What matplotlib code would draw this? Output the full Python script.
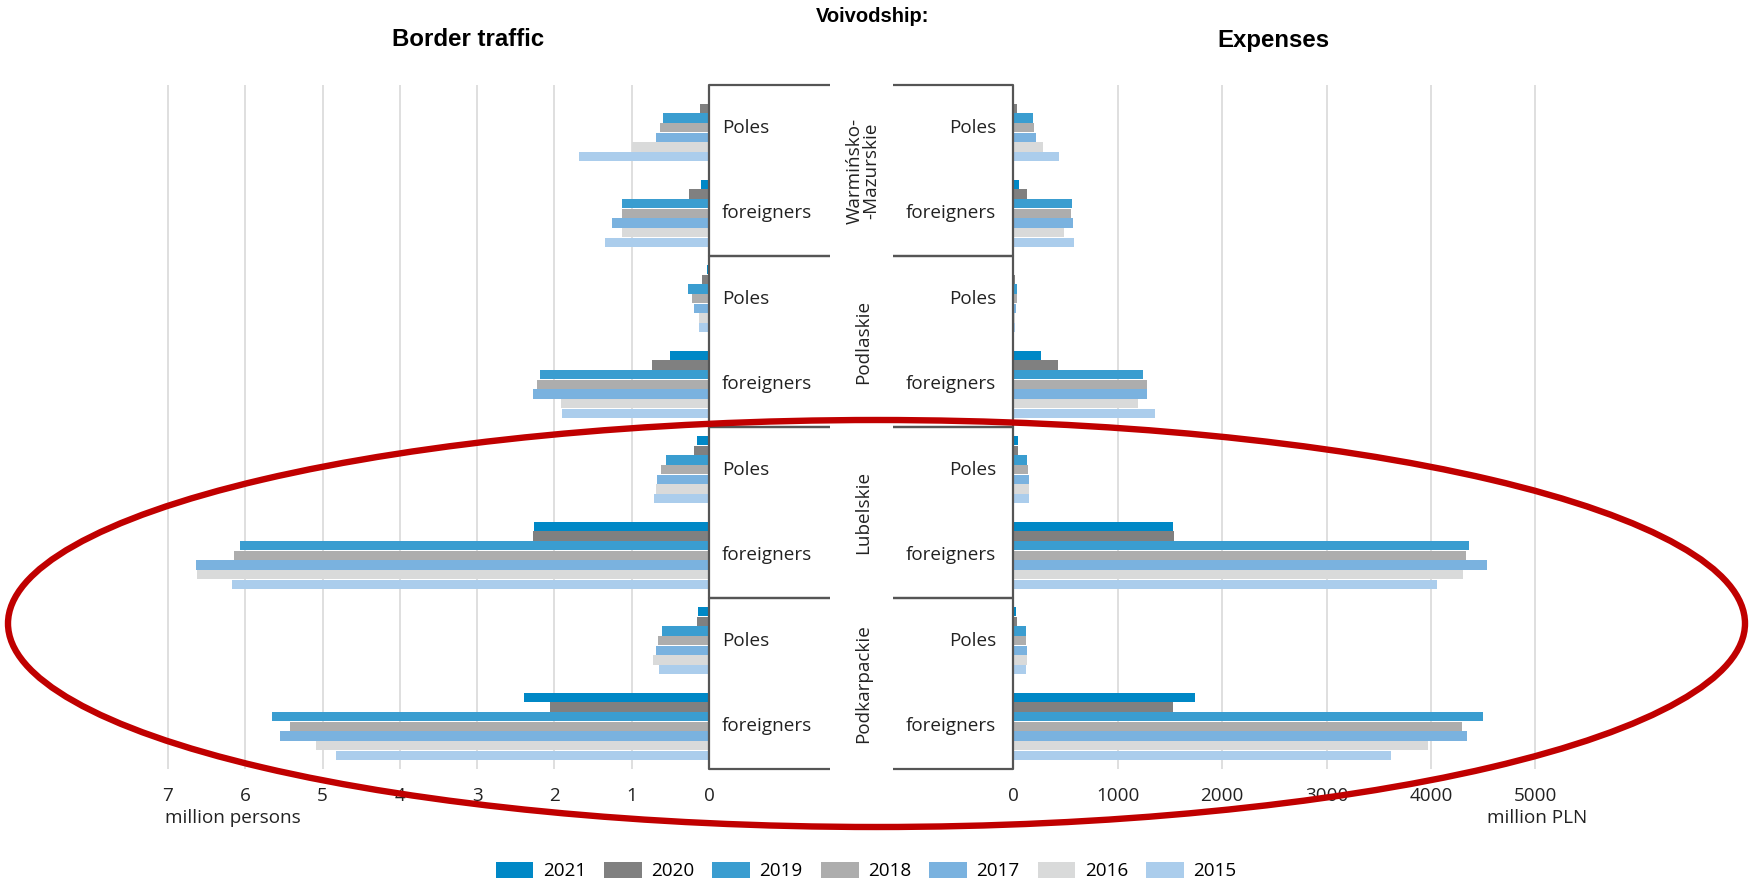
#
#  plot.py
#
#  border traffic and expenses of Poles and foreigners
#  for the voivodships on the eastern border, 2015-2021
#

import numpy as np
import matplotlib
matplotlib.use("Agg")
import matplotlib.pyplot as plt
from matplotlib.patches import Ellipse, Patch

plt.rcParams['font.family'] = ['Open Sans', 'DejaVu Sans']

#---------- data -------------------------------------------
voivodships = ['Warmińsko-\n-Mazurskie', 'Podlaskie', 'Lubelskie', 'Podkarpackie']
groups = ['Poles', 'foreigners']
years = [2021, 2020, 2019, 2018, 2017, 2016, 2015]
colors = ['#0088c6', '#808080', '#3a9dd0', '#adadad', '#7ab2df', '#d9dada', '#abcdec']

#  million persons, one row per year, columns in voivodship order
traffic_poles = [
    [0.01, 0.03, 0.15, 0.14],
    [0.11, 0.09, 0.19, 0.15],
    [0.59, 0.27, 0.55, 0.61],
    [0.63, 0.22, 0.62, 0.66],
    [0.69, 0.19, 0.67, 0.69],
    [1.00, 0.13, 0.69, 0.73],
    [1.68, 0.13, 0.71, 0.65],
]
traffic_foreigners = [
    [0.10, 0.51, 2.26, 2.39],
    [0.26, 0.74, 2.28, 2.06],
    [1.13, 2.18, 6.07, 5.65],
    [1.12, 2.23, 6.14, 5.42],
    [1.25, 2.28, 6.64, 5.55],
    [1.12, 1.92, 6.62, 5.09],
    [1.35, 1.90, 6.17, 4.82],
]

#  million PLN
expenses_poles = [
    [5, 5, 41, 26],
    [34, 12, 48, 34],
    [190, 40, 132, 122],
    [203, 31, 144, 122],
    [222, 27, 147, 129],
    [280, 18, 150, 129],
    [439, 21, 150, 118],
]
expenses_foreigners = [
    [50, 264, 1533, 1738],
    [127, 424, 1540, 1529],
    [564, 1245, 4363, 4498],
    [548, 1280, 4333, 4297],
    [568, 1277, 4538, 4341],
    [481, 1191, 4311, 3971],
    [580, 1360, 4058, 3619],
]

#---------- layout (pixels of the 1757 x 883 figure) -------
W, H = 1757, 883
ytop, ybot = 85, 769          # plot area
xl0, xl1 = 150, 709           # left bar axes
xr0, xr1 = 1013.3, 1560       # right bar axes
ncat = len(voivodships) * len(groups)
step = 0.1134                 # bar pitch in category units
fs = 13.6                     # body text size
tc = '#222222'

fig = plt.figure(figsize=(W / 100, H / 100), dpi=100)

def fig_rect(x0, x1):
    return [x0 / W, 1 - ybot / H, (x1 - x0) / W, (ybot - ytop) / H]

def draw_bars(axis, poles, foreigners):
    poles = np.array(poles)
    foreigners = np.array(foreigners)
    for j in range(len(years)):
        vals = np.empty(ncat)
        vals[0::2] = poles[j]
        vals[1::2] = foreigners[j]
        ypos = np.arange(ncat) + 0.5 + (j - 3) * step
        axis.barh(ypos, vals, height=step * 0.96, color=colors[j],
                  label=str(years[j]), zorder=2)
    axis.set_ylim(ncat, 0)
    axis.set_yticks([])
    for s in axis.spines.values():
        s.set_visible(False)
    axis.tick_params(axis='x', length=0, pad=13, labelsize=fs, colors=tc)
    axis.grid(axis='x', color='#d9d9d9', lw=1.2, zorder=0)

#  left: border traffic
axL = fig.add_axes(fig_rect(xl0, xl1))
draw_bars(axL, traffic_poles, traffic_foreigners)
axL.set_xlim((xl1 - xl0) / 77.3, 0)
axL.set_xticks(range(7, -1, -1))
axL.set_xticklabels([str(v) for v in range(7, -1, -1)])

#  right: expenses
axR = fig.add_axes(fig_rect(xr0, xr1))
draw_bars(axR, expenses_poles, expenses_foreigners)
axR.set_xlim(0, (xr1 - xr0) / 0.1044)
axR.set_xticks(range(0, 6000, 1000))

#---------- overlay in pixel coordinates -------------------
ov = fig.add_axes([0, 0, 1, 1], facecolor='none')
ov.set_xlim(0, W)
ov.set_ylim(H, 0)
ov.axis('off')

gh = (ybot - ytop) / len(voivodships)
box_kw = dict(color='#555555', lw=1.6, solid_capstyle='butt')
for i, name in enumerate(voivodships):
    y0 = ytop + i * gh
    y1 = y0 + gh
    # left box
    ov.plot([830, 709, 709, 830], [y0, y0, y1, y1], **box_kw)
    # right box
    ov.plot([893, 1013, 1013, 893], [y0, y0, y1, y1], **box_kw)
    ov.text(863, (y0 + y1) / 2, name, rotation=90, ha='center', va='center',
            fontsize=fs, color=tc, linespacing=0.95)
    for k, g in enumerate(groups):
        yc = y0 + (k + 0.5) * gh / 2
        ov.text(722, yc, g, ha='left', va='center', fontsize=fs, color=tc)
        ov.text(996, yc, g, ha='right', va='center', fontsize=fs, color=tc)

ov.text(468, 40, 'Border traffic', ha='center', va='center', fontsize=17.3,
        fontweight='bold', family='Liberation Sans')
ov.text(1273, 40, 'Expenses', ha='center', va='center', fontsize=17.3,
        fontweight='bold', family='Liberation Sans')
ov.text(873, 17, 'Voivodship:', ha='center', va='center', fontsize=14.5,
        fontweight='bold', family='Liberation Sans')

ov.text(165, 818, 'million persons', ha='left', va='center', fontsize=fs, color=tc)
ov.text(1537, 818, 'million PLN', ha='center', va='center', fontsize=fs, color=tc)

#  highlight of the two southern voivodships
ov.add_patch(Ellipse((876.5, 623.5), 1737, 407, fill=False,
                     edgecolor='#c00000', lw=4.6, zorder=10))

#---------- legend -----------------------------------------
handles = [Patch(facecolor=c, label=str(y)) for c, y in zip(colors, years)]
fig.legend(handles=handles, loc='center', bbox_to_anchor=(866 / W, 1 - 871 / H),
           ncol=len(years), frameon=False, fontsize=fs, handlelength=2.0,
           handleheight=0.9, handletextpad=0.5, columnspacing=0.95)

fig.savefig('out.png', dpi=100)
